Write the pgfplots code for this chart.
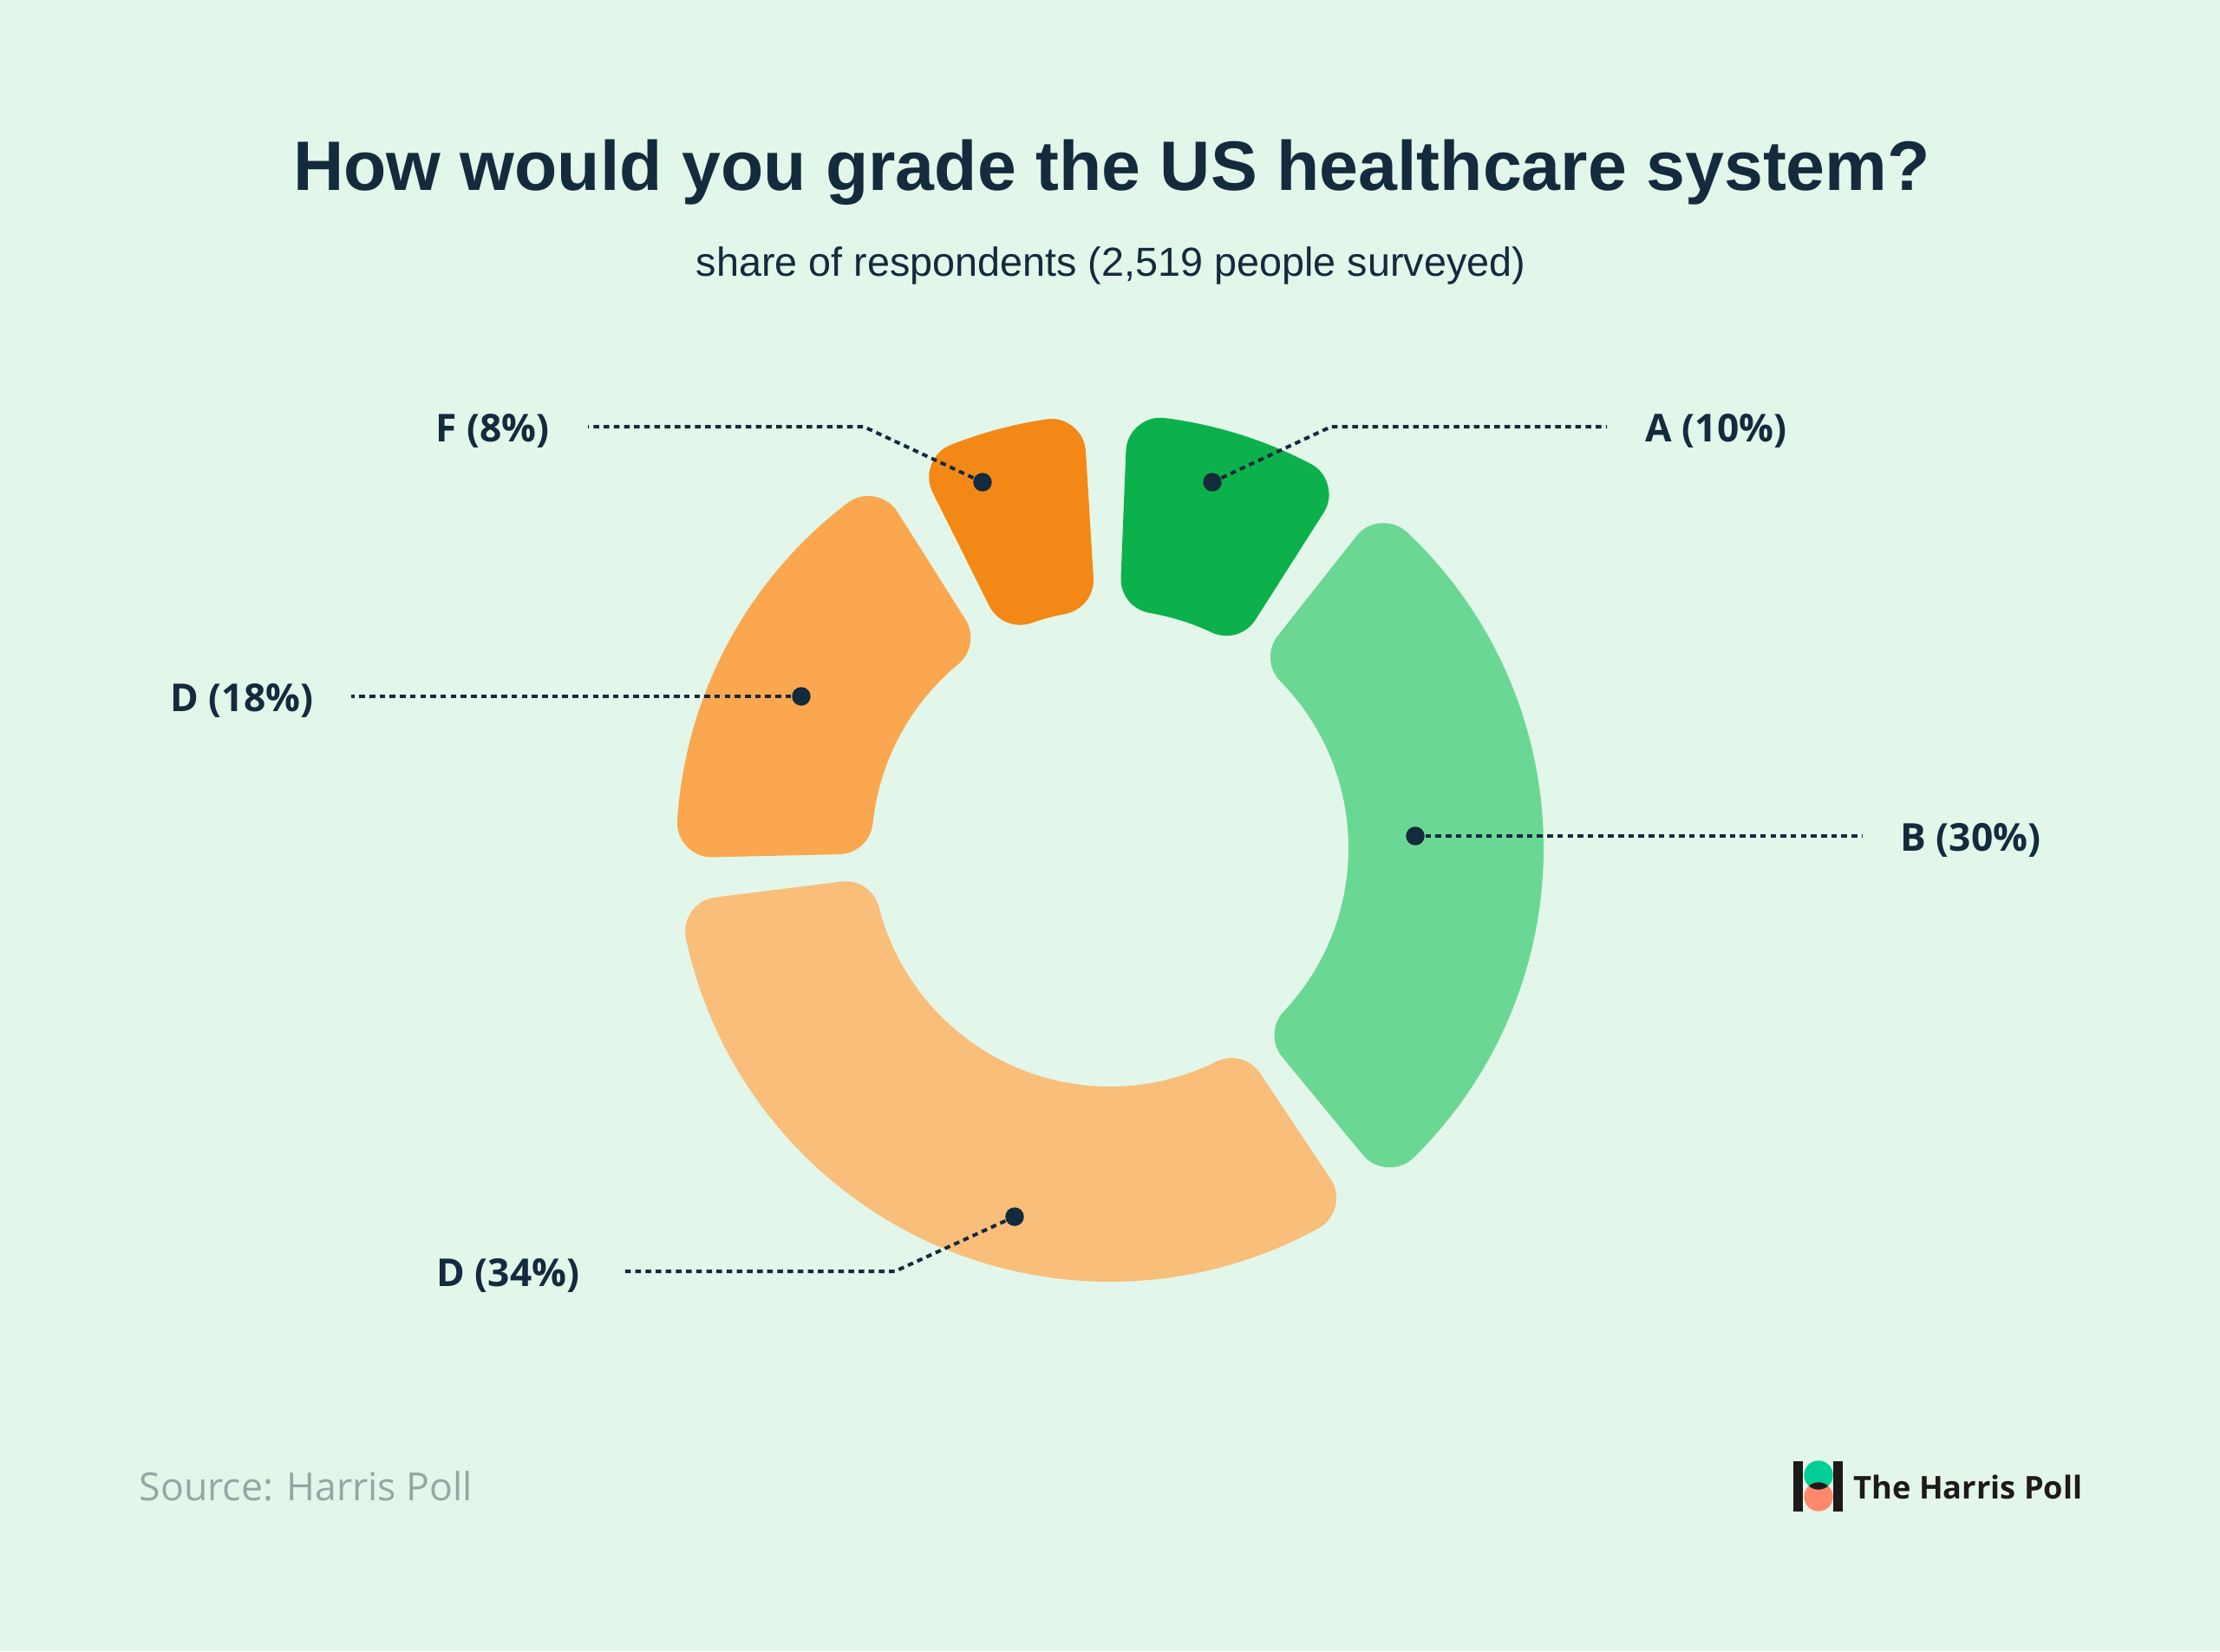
\documentclass[border=0pt]{standalone}
\usepackage{pgfplots}
\pgfplotsset{compat=1.18}
\usepackage{fontspec}
\setmainfont{Open Sans}
\newfontfamily\titlefont{Liberation Sans}
\definecolor{bgc}{HTML}{E2F7E9}
\definecolor{txt}{HTML}{142A3D}
\definecolor{srcc}{HTML}{94A7A4}
\definecolor{cA}{HTML}{0DB14B}
\definecolor{cB}{HTML}{6BD794}
\definecolor{cC}{HTML}{F8BE7A}
\definecolor{cD}{HTML}{FAA74F}
\definecolor{cF}{HTML}{F48816}
\definecolor{lteal}{HTML}{00CE97}
\definecolor{lsalmon}{HTML}{FF896D}
\definecolor{lblack}{HTML}{1E1A1A}
\begin{document}
\begin{tikzpicture}
\fill[bgc] (0,0) rectangle (25.6,19.04);
\begin{axis}[at={(0,0)}, anchor=south west, scale only axis,
  width=25.6cm, height=19.04cm, xmin=0, xmax=2560, ymin=0, ymax=1904,
  y dir=reverse, hide axis, clip=false]
% donut: shares (percent), start at top, clockwise
\pgfplotsextra{
  \begin{scope}[shift={(axis cs:1280,978)}]
  \gdef\cum{0}
  \foreach \p/\c in {10/cA,30/cB,34/cC,18/cD,8/cF}{
    \pgfmathsetmacro\aone{90.6-3.6*\cum}
    \pgfmathsetmacro\atwo{90.6-3.6*(\cum+\p)}
    \pgfmathsetmacro\oa{\aone-2.9-4.99}
    \pgfmathsetmacro\ob{\atwo+2.9+4.99}
    \pgfmathsetmacro\ia{\aone-2.9-7.30}
    \pgfmathsetmacro\ib{\atwo+2.9+7.30}
    \fill[\c, draw=\c, line width=0.8cm, line join=round]
      (canvas polar cs:angle=\oa,radius=4.6cm)
      arc[start angle=\oa, end angle=\ob, radius=4.6cm]
      -- (canvas polar cs:angle=\ib,radius=3.15cm)
      arc[start angle=\ib, end angle=\ia, radius=3.15cm] -- cycle;
    \pgfmathsetmacro\newcum{\cum+\p}
    \xdef\cum{\newcum}
  }
  \end{scope}
}
% leader lines
\draw[txt, line width=0.04cm, dash pattern=on 0.065cm off 0.052cm]
  (axis cs:1398,556) -- (axis cs:1535,492) -- (axis cs:1853,492);
\draw[txt, line width=0.04cm, dash pattern=on 0.065cm off 0.052cm]
  (axis cs:1632,964) -- (axis cs:2147,964);
\draw[txt, line width=0.04cm, dash pattern=on 0.065cm off 0.052cm]
  (axis cs:1170,1403) -- (axis cs:1032,1466) -- (axis cs:718,1466);
\draw[txt, line width=0.04cm, dash pattern=on 0.065cm off 0.052cm]
  (axis cs:924,803) -- (axis cs:405,803);
\draw[txt, line width=0.04cm, dash pattern=on 0.065cm off 0.052cm]
  (axis cs:1133,556) -- (axis cs:996,492) -- (axis cs:678,492);
\addplot[only marks, mark=*, mark size=2.85pt, color=txt, mark options={fill=txt, draw=txt}]
  coordinates {(1398,556) (1632,964) (1170,1403) (924,803) (1133,556)};
% labels
\tikzset{lab/.style={inner sep=0pt, text=txt, font=\fontsize{12.6pt}{15pt}\selectfont\bfseries}}
\node[lab, anchor=base west] at (axis cs:1897,509) {A (10\%)};
\node[lab, anchor=base west] at (axis cs:2191,981) {B (30\%)};
\node[lab, anchor=base east] at (axis cs:669,1483) {D (34\%)};
\node[lab, anchor=base east] at (axis cs:362,820) {D (18\%)};
\node[lab, anchor=base east] at (axis cs:634,509) {F (8\%)};
% title
\node[anchor=base, inner sep=0pt, text=txt, font=\titlefont\fontsize{22.96pt}{27pt}\selectfont\bfseries]
  at (axis cs:1282,219) {How would you grade the US healthcare system?};
\node[anchor=base, inner sep=0pt, text=txt, font=\titlefont\fontsize{13.3pt}{16pt}\selectfont]
  at (axis cs:1281,318) {share of respondents (2,519 people surveyed)};
% source
\node[anchor=base west, inner sep=0pt, text=srcc, font=\fontsize{12.7pt}{15pt}\selectfont]
  at (axis cs:160,1730) {Source: Harris Poll};
% logo
\fill[lblack] (axis cs:2068,1685) rectangle (axis cs:2079,1743);
\fill[lblack] (axis cs:2114,1685) rectangle (axis cs:2125,1743);
\fill[lteal] (axis cs:2097,1701) circle[radius=0.167cm];
\fill[lsalmon] (axis cs:2097,1726) circle[radius=0.167cm];
\begin{scope}
  \clip (axis cs:2097,1701) circle[radius=0.167cm];
  \fill[lblack] (axis cs:2097,1726) circle[radius=0.167cm];
\end{scope}
\node[anchor=base west, inner sep=0pt, text=lblack, font=\fontsize{10.3pt}{13pt}\selectfont\bfseries]
  at (axis cs:2137,1728) {The Harris Poll};
\end{axis}
\pgfresetboundingbox
\path (0,0) rectangle (25.6,19.04);
\end{tikzpicture}
\end{document}
